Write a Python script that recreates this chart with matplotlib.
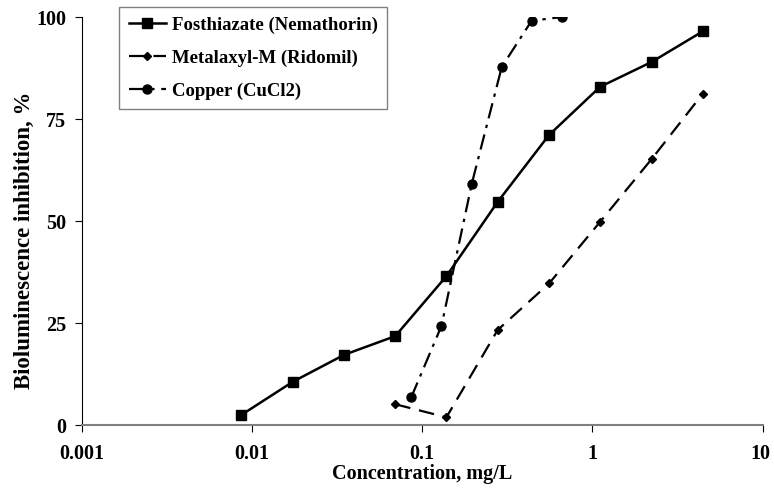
import numpy as np
import matplotlib
matplotlib.use('Agg')
import matplotlib.pyplot as plt
from matplotlib.transforms import ScaledTranslation

plt.rcParams['font.family'] = ['Liberation Serif', 'DejaVu Serif']
plt.rcParams['font.weight'] = 'bold'

# data
fos_conc = [0.0087, 0.0174, 0.0348, 0.0696, 0.139, 0.278, 0.557, 1.11, 2.23, 4.45]
fos_inh = [2.5, 10.6, 17.2, 21.8, 36.5, 54.7, 71.1, 82.9, 89.0, 96.5]

met_conc = [0.0696, 0.139, 0.278, 0.557, 1.11, 2.23, 4.45]
met_inh = [5.1, 1.9, 23.3, 34.7, 49.8, 65.2, 81.2]

cu_conc = [0.0866, 0.13, 0.196, 0.294, 0.44, 0.66]
cu_inh = [6.9, 24.3, 59.2, 87.8, 99.1, 100.0]

fig = plt.figure(figsize=(7.74, 4.88), dpi=100)
ax = fig.add_axes([0.1053, 0.129, 0.880, 0.836])

ax.plot(fos_conc, fos_inh, color='black', lw=1.8, marker='s', ms=6.5,
        label='Fosthiazate (Nemathorin)')
ax.plot(met_conc, met_inh, color='black', lw=1.6, ls=(0, (7, 4)), marker='D', ms=4.5,
        label='Metalaxyl-M (Ridomil)')
ax.plot(cu_conc, cu_inh, color='black', lw=1.6, ls=(0, (7, 3, 1.5, 3)), marker='o', ms=6.5,
        label='Copper (CuCl2)')

ax.set_xscale('log')
ax.set_xlim(0.001, 10)
ax.set_ylim(0, 100)
ax.set_xticks([0.001, 0.01, 0.1, 1, 10])
ax.set_xticklabels(['0.001', '0.01', '0.1', '1', '10'])
ax.xaxis.set_minor_locator(matplotlib.ticker.NullLocator())
ax.set_yticks([0, 25, 50, 75, 100])

ax.spines['top'].set_visible(False)
ax.spines['right'].set_visible(False)
ax.spines['left'].set_color('black')
ax.spines['bottom'].set_color('#808080')
ax.spines['bottom'].set_linewidth(1.5)
ax.tick_params(axis='both', direction='out', length=5, labelsize=14.5)
ax.tick_params(axis='y', pad=6)
ax.tick_params(axis='x', pad=9)

# last x label sits against the right edge
lab10 = ax.get_xticklabels()[-1]
lab10.set_transform(lab10.get_transform() + ScaledTranslation(-0.02, 0, fig.dpi_scale_trans))

ax.set_xlabel('Concentration, mg/L', fontsize=14.5, fontweight='bold', labelpad=0)
ax.set_ylabel('Bioluminescence inhibition, %', fontsize=16.5, fontweight='bold')
ax.yaxis.set_label_coords(-0.068, 0.453)

leg = ax.legend(loc='upper left', bbox_to_anchor=(0.154, 0.986), bbox_transform=fig.transFigure,
                fontsize=13.5, frameon=True, fancybox=False, framealpha=1,
                handlelength=2.0, handletextpad=0.3, borderpad=0.5, labelspacing=0.85,
                borderaxespad=0)
leg.get_frame().set_edgecolor('#808080')
leg.get_frame().set_linewidth(1.0)

fig.savefig('out.png', dpi=100)
